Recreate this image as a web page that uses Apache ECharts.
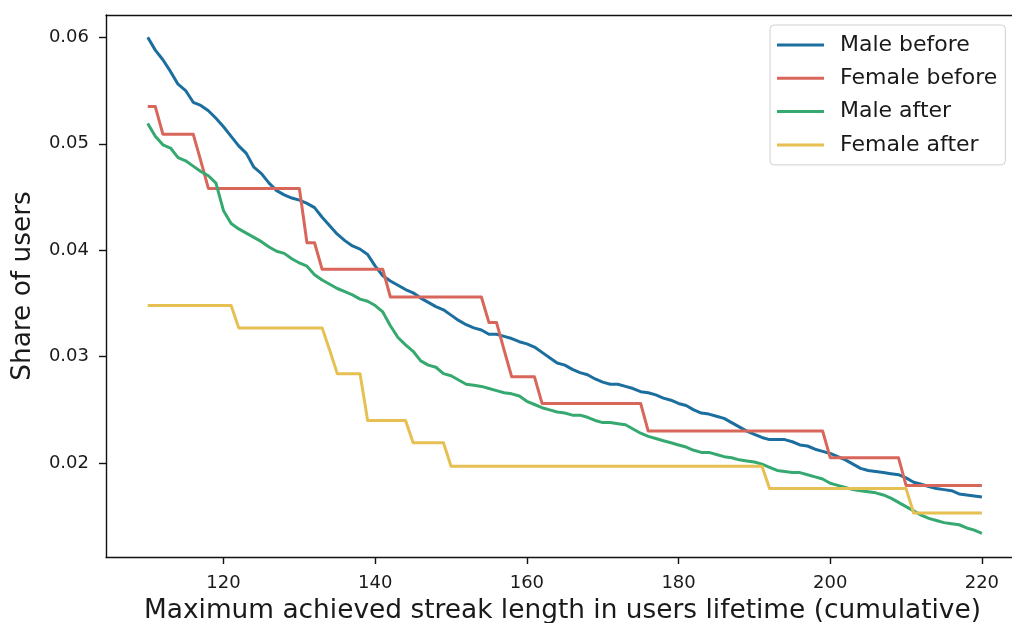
<!DOCTYPE html>
<html>
<head>
<meta charset="utf-8">
<script src="https://cdn.jsdelivr.net/npm/echarts@6/dist/echarts.min.js"></script>
<style>
  html, body { margin: 0; padding: 0; background: #fff; }
  #chart { width: 1012px; height: 623px; }
</style>
</head>
<body>
<div id="chart"></div>
<script>
// Maximum achieved streak length (x values shared by every series)
const streakLengths = [
  110,111,112,113,114,115,116,117,118,119,120,121,122,123,124,125,126,127,128,129,
  130,131,132,133,134,135,136,137,138,139,140,141,142,143,144,145,146,147,148,149,
  150,151,152,153,154,155,156,157,158,159,160,161,162,163,164,165,166,167,168,169,
  170,171,172,173,174,175,176,177,178,179,180,181,182,183,184,185,186,187,188,189,
  190,191,192,193,194,195,196,197,198,199,200,201,202,203,204,205,206,207,208,209,
  210,211,212,213,214,215,216,217,218,219,220
];

const maleBefore = [
  0.0600,0.0588,0.0579,0.0568,0.0556,0.0550,0.0539,0.0536,0.0531,0.0524,
  0.0516,0.0507,0.0498,0.0491,0.0478,0.0472,0.0463,0.0456,0.0452,0.0449,
  0.0447,0.0444,0.0440,0.0431,0.0423,0.0415,0.0409,0.0404,0.0401,0.0396,
  0.0385,0.0376,0.0371,0.0367,0.0363,0.0360,0.0355,0.0351,0.0347,0.0344,
  0.0339,0.0334,0.0330,0.0327,0.0325,0.0321,0.0321,0.0319,0.0317,0.0314,
  0.0312,0.0309,0.0304,0.0299,0.0294,0.0292,0.0288,0.0285,0.0283,0.0279,
  0.0276,0.0274,0.0274,0.0272,0.0270,0.0267,0.0266,0.0264,0.0261,0.0259,
  0.0256,0.0254,0.0250,0.0247,0.0246,0.0244,0.0242,0.0238,0.0234,0.0230,
  0.0227,0.0224,0.0222,0.0222,0.0222,0.0220,0.0217,0.0216,0.0213,0.0211,
  0.0209,0.0206,0.0203,0.0199,0.0195,0.0193,0.0192,0.0191,0.0190,0.0189,
  0.0186,0.0182,0.0180,0.0178,0.0176,0.0175,0.0174,0.0171,0.0170,0.0169,
  0.0168
];

const femaleBefore = [
  0.0535,0.0535,0.0509,0.0509,0.0509,0.0509,0.0509,0.0484,0.0458,0.0458,
  0.0458,0.0458,0.0458,0.0458,0.0458,0.0458,0.0458,0.0458,0.0458,0.0458,
  0.0458,0.0407,0.0407,0.0382,0.0382,0.0382,0.0382,0.0382,0.0382,0.0382,
  0.0382,0.0382,0.0356,0.0356,0.0356,0.0356,0.0356,0.0356,0.0356,0.0356,
  0.0356,0.0356,0.0356,0.0356,0.0356,0.0332,0.0332,0.0306,0.0281,0.0281,
  0.0281,0.0281,0.0256,0.0256,0.0256,0.0256,0.0256,0.0256,0.0256,0.0256,
  0.0256,0.0256,0.0256,0.0256,0.0256,0.0256,0.0230,0.0230,0.0230,0.0230,
  0.0230,0.0230,0.0230,0.0230,0.0230,0.0230,0.0230,0.0230,0.0230,0.0230,
  0.0230,0.0230,0.0230,0.0230,0.0230,0.0230,0.0230,0.0230,0.0230,0.0230,
  0.0205,0.0205,0.0205,0.0205,0.0205,0.0205,0.0205,0.0205,0.0205,0.0205,
  0.0179,0.0179,0.0179,0.0179,0.0179,0.0179,0.0179,0.0179,0.0179,0.0179,
  0.0179
];

const maleAfter = [
  0.0519,0.0507,0.0499,0.0496,0.0487,0.0484,0.0479,0.0474,0.0470,0.0463,
  0.0437,0.0425,0.0420,0.0416,0.0412,0.0408,0.0403,0.0399,0.0397,0.0392,
  0.0388,0.0385,0.0377,0.0372,0.0368,0.0364,0.0361,0.0358,0.0354,0.0352,
  0.0348,0.0342,0.0329,0.0318,0.0311,0.0305,0.0296,0.0292,0.0290,0.0284,
  0.0282,0.0278,0.0274,0.0273,0.0272,0.0270,0.0268,0.0266,0.0265,0.0263,
  0.0258,0.0255,0.0252,0.0250,0.0248,0.0247,0.0245,0.0245,0.0243,0.0240,
  0.0238,0.0238,0.0237,0.0236,0.0232,0.0228,0.0225,0.0223,0.0221,0.0219,
  0.0217,0.0215,0.0212,0.0210,0.0210,0.0208,0.0206,0.0205,0.0203,0.0202,
  0.0201,0.0199,0.0196,0.0193,0.0192,0.0191,0.0191,0.0189,0.0187,0.0185,
  0.0181,0.0179,0.0177,0.0175,0.0174,0.0173,0.0172,0.0170,0.0167,0.0163,
  0.0159,0.0155,0.0151,0.0148,0.0146,0.0144,0.0143,0.0142,0.0139,0.0137,
  0.0134
];

const femaleAfter = [
  0.0348,0.0348,0.0348,0.0348,0.0348,0.0348,0.0348,0.0348,0.0348,0.0348,
  0.0348,0.0348,0.0327,0.0327,0.0327,0.0327,0.0327,0.0327,0.0327,0.0327,
  0.0327,0.0327,0.0327,0.0327,0.0306,0.0284,0.0284,0.0284,0.0284,0.0240,
  0.0240,0.0240,0.0240,0.0240,0.0240,0.0219,0.0219,0.0219,0.0219,0.0219,
  0.0197,0.0197,0.0197,0.0197,0.0197,0.0197,0.0197,0.0197,0.0197,0.0197,
  0.0197,0.0197,0.0197,0.0197,0.0197,0.0197,0.0197,0.0197,0.0197,0.0197,
  0.0197,0.0197,0.0197,0.0197,0.0197,0.0197,0.0197,0.0197,0.0197,0.0197,
  0.0197,0.0197,0.0197,0.0197,0.0197,0.0197,0.0197,0.0197,0.0197,0.0197,
  0.0197,0.0197,0.0176,0.0176,0.0176,0.0176,0.0176,0.0176,0.0176,0.0176,
  0.0176,0.0176,0.0176,0.0176,0.0176,0.0176,0.0176,0.0176,0.0176,0.0176,
  0.0176,0.0153,0.0153,0.0153,0.0153,0.0153,0.0153,0.0153,0.0153,0.0153,
  0.0153
];

const seriesNames = ['Male before', 'Female before', 'Male after', 'Female after'];
const seriesColors = ['#1c6e9f', '#d8665a', '#35a96f', '#e6c053'];
const seriesValues = [maleBefore, femaleBefore, maleAfter, femaleAfter];

const xTicks = [120, 140, 160, 180, 200, 220];
const yTicks = [0.02, 0.03, 0.04, 0.05, 0.06];

const FONT = 'DejaVu Sans';
const INK = '#1a1a1a';
const SPINE = { color: '#111', width: 1.4 };

const chart = echarts.init(document.getElementById('chart'), null, { renderer: 'canvas' });

chart.setOption({
  animation: false,
  backgroundColor: '#ffffff',
  textStyle: { fontFamily: FONT },
  // the plot area runs past the right edge of the page, so no right spine is drawn
  grid: {
    left: 106,
    top: 15,
    right: 0,
    bottom: 66,
    show: false,
    containLabel: false,
    outerBoundsMode: 'none'
  },
  legend: {
    left: 770,
    top: 25,
    orient: 'vertical',
    icon: 'rect',
    itemWidth: 47,
    itemHeight: 3,
    itemGap: 9.3,
    padding: [8, 8, 8, 7],
    backgroundColor: 'rgba(255,255,255,0.85)',
    borderColor: '#d0d0d0',
    borderWidth: 1,
    borderRadius: 4,
    textStyle: {
      fontFamily: FONT,
      fontSize: 22,
      color: INK,
      lineHeight: 24,
      padding: [0, 0, 0, 11]
    },
    data: seriesNames
  },
  xAxis: [
    {
      type: 'value',
      position: 'bottom',
      min: 104.5,
      max: 223.97,
      name: 'Maximum achieved streak length in users lifetime (cumulative)',
      nameLocation: 'middle',
      nameGap: 41,
      nameTextStyle: { fontFamily: FONT, fontSize: 26.4, color: INK, padding: [0, 0, 0, 7] },
      splitLine: { show: false },
      axisLine: { show: true, onZero: false, lineStyle: SPINE },
      axisTick: {
        show: true,
        length: 7,
        inside: false,
        lineStyle: SPINE,
        customValues: xTicks
      },
      axisLabel: {
        fontFamily: FONT,
        fontSize: 18,
        color: INK,
        margin: 17,
        customValues: xTicks,
        formatter: v => String(v)
      }
    },
    {
      // top spine only
      type: 'value',
      position: 'top',
      min: 104.5,
      max: 223.97,
      splitLine: { show: false },
      axisLine: { show: true, onZero: false, lineStyle: SPINE },
      axisTick: { show: false },
      axisLabel: { show: false }
    }
  ],
  yAxis: {
    type: 'value',
    min: 0.01117,
    max: 0.0621,
    name: 'Share of users',
    nameLocation: 'middle',
    nameGap: 70,
    nameRotate: 90,
    nameTextStyle: { fontFamily: FONT, fontSize: 26.4, color: INK },
    splitLine: { show: false },
    axisLine: { show: true, onZero: false, lineStyle: SPINE },
    axisTick: {
      show: true,
      length: 7,
      inside: false,
      lineStyle: SPINE,
      customValues: yTicks
    },
    axisLabel: {
      fontFamily: FONT,
      fontSize: 18,
      color: INK,
      margin: 17,
      customValues: yTicks,
      formatter: v => v.toFixed(2)
    }
  },
  series: seriesNames.map((name, i) => ({
    name: name,
    type: 'line',
    xAxisIndex: 0,
    showSymbol: false,
    symbol: 'none',
    clip: true,
    color: seriesColors[i],
    lineStyle: { color: seriesColors[i], width: 3, join: 'round' },
    data: streakLengths.map((x, k) => [x, seriesValues[i][k]])
  }))
});
</script>
</body>
</html>
